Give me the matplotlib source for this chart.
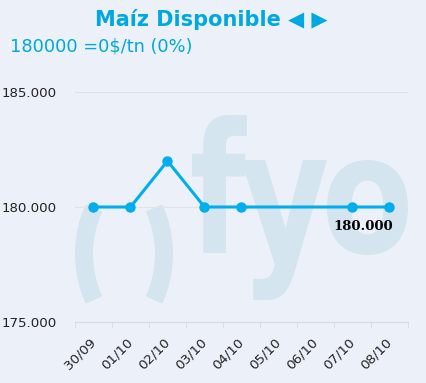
import numpy as np
import matplotlib.pyplot as plt
from matplotlib.patches import Arc, PathPatch
from matplotlib.textpath import TextPath
from matplotlib.font_manager import FontProperties
from matplotlib.transforms import Affine2D

dates = ["30/09", "01/10", "02/10", "03/10", "04/10", "05/10", "06/10", "07/10", "08/10"]
price_idx = [0, 1, 2, 3, 4, 7, 8]
prices = [180000, 180000, 182000, 180000, 180000, 180000, 180000]
y_ticks = [175000, 180000, 185000]
last_label = "180.000"

W, H = 427, 383
bg = '#ECF0F9'
blue = '#00AEEF'
wm = '#D4E5EF'

fig = plt.figure(figsize=(W/100, H/100), dpi=100, facecolor=bg)
ax = fig.add_axes([75/W, 1-322/H, 333/W, 230/H], zorder=1)
ax.patch.set_alpha(0)

# watermark logo, in figure pixels
px = Affine2D().scale(1/W, 1/H) + fig.transFigure
for cx, t1, t2 in [(195, 155.5, 204.5), (53, -24.5, 24.5)]:
    fig.patches.append(Arc((cx, H-254), 222, 222, theta1=t1, theta2=t2,
                           transform=px, color=wm, lw=13, zorder=0))
fp = FontProperties(family='DejaVu Sans', weight='bold')
for ch, (x0, x1, y0, y1) in zip("fyo", [(192, 247, 115, 253), (241, 327, 160, 300), (327, 408, 160, 255)]):
    p = TextPath((0, 0), ch, size=1, prop=fp)
    e = p.get_extents()
    tr = Affine2D().translate(-e.x0, -e.y0).scale((x1-x0)/e.width, (y1-y0)/e.height).translate(x0, H-y1)
    fig.patches.append(PathPatch(tr.transform_path(p), transform=px, fc=wm, ec='none', zorder=0))

ax.plot(price_idx, prices, color=blue, lw=2.2, marker='o', ms=6.5, zorder=3)
ax.annotate(last_label, (price_idx[-1], prices[-1]), xytext=(-19, -14), textcoords='offset points',
            ha='center', va='center', fontsize=9.5, fontweight='bold', family='DejaVu Serif')

ax.set_xlim(-0.5, 8.5)
ax.set_ylim(175000, 185000)
ax.set_yticks(y_ticks)
ax.set_yticklabels([f"{v:,}".replace(",", ".") for v in y_ticks], fontsize=9.6, color='#222222')
ax.tick_params(axis='y', length=0, pad=13)
ax.grid(axis='y', color='#E2E2E2', lw=0.8)
ax.set_axisbelow(True)

ax.set_xticks(range(len(dates)))
ax.set_xticklabels(dates, rotation=45, ha='right', va='center', rotation_mode='anchor',
                   fontsize=9.6, color='#222222')
ax.set_xticks(np.arange(-0.5, len(dates), 1), minor=True)
ax.tick_params(axis='x', which='major', length=0, pad=13)
ax.tick_params(axis='x', which='minor', length=4, color='#DADADA')

for s in ['top', 'right', 'left']:
    ax.spines[s].set_visible(False)
ax.spines['bottom'].set_color('#DADADA')

fig.text(0.495, 1-20/H, "Maíz Disponible ◀ ▶", fontsize=15, fontweight='bold', color='#00A8E1',
         ha='center', va='center')
fig.text(10/W, 1-46/H, "180000 =0$/tn (0%)", fontsize=12.8, color='#00A8E1', ha='left', va='center')

fig.savefig("out.png", dpi=100, facecolor=bg)
